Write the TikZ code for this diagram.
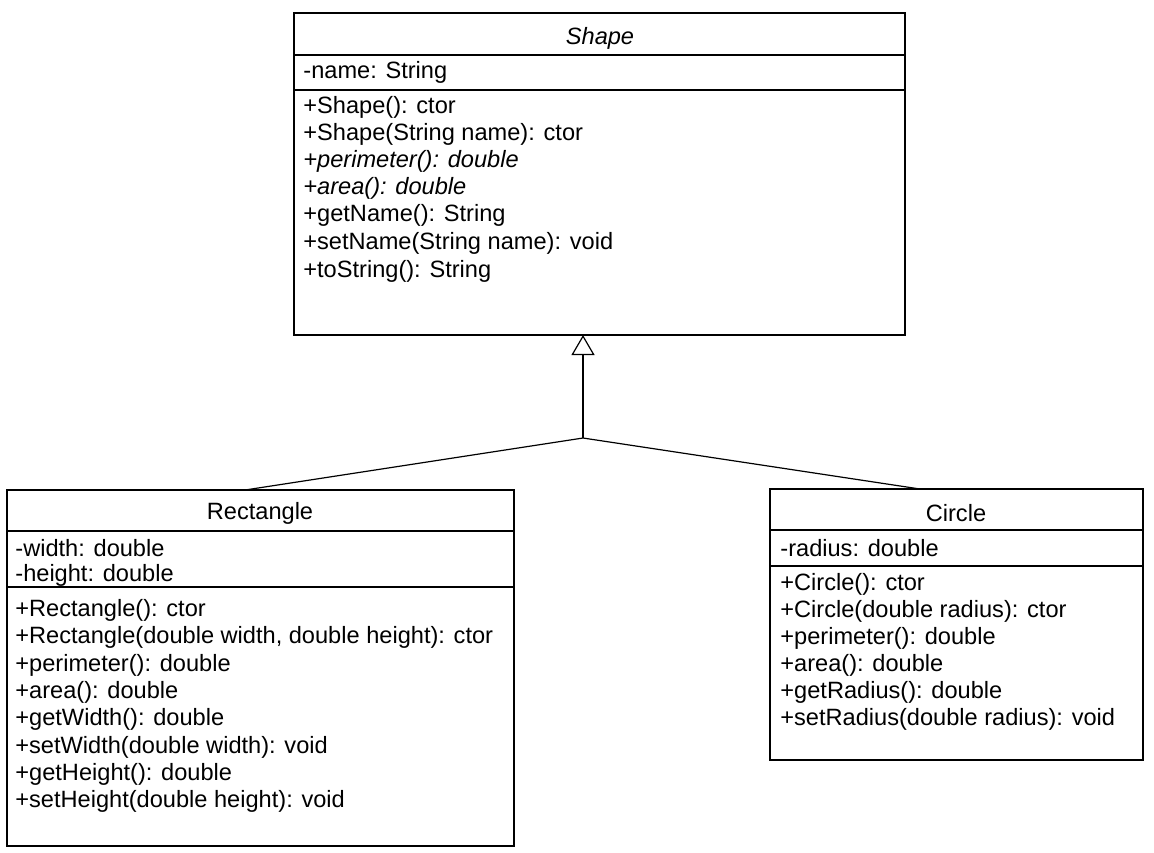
\documentclass[tikz,border=0pt]{standalone}
\usepackage{fontspec}
\setmainfont{Liberation Sans}
\usetikzlibrary{positioning}
\usetikzlibrary{arrows.meta}

\tikzset{
  classbox/.style={draw, line width=0.6pt, inner sep=0pt, outer sep=0pt, anchor=north west},
  member/.style={anchor=west, inner sep=0pt},
  title/.style={inner sep=0pt},
  rule/.style={line width=0.6pt},
  inherit/.style={line width=0.6pt, -{Triangle[open, width=11.5pt, length=10pt]}}
}

\begin{document}
\begin{tikzpicture}[x=0.5pt, y=-0.5pt, every node/.style={font=\fontsize{11.8}{14}\selectfont}]
\useasboundingbox (0,0) rectangle (1154,852);

% Shape
\node[classbox, minimum width=305.5pt, minimum height=161pt] (shape) at (294,13) {};
\draw[rule] (shape.west |- 0,55) -- (shape.east |- 0,55);
\draw[rule] (shape.west |- 0,90) -- (shape.east |- 0,90);
\node[title] (shapename) at (600,38) {\textit{Shape}};
\node[member] (shapeattr1) at (303,72) {-name: String};
\node[member] (shapeop1) at (303,107) {+Shape(): ctor};
\node[member] (shapeop2) at (303,134) {+Shape(String name): ctor};
\node[member] (shapeop3) at (303,161) {\textit{+perimeter(): double}};
\node[member] (shapeop4) at (303,188) {\textit{+area(): double}};
\node[member] (shapeop5) at (303,215) {+getName(): String};
\node[member] (shapeop6) at (303,243) {+setName(String name): void};
\node[member] (shapeop7) at (303,271) {+toString(): String};

% Rectangle
\node[classbox, minimum width=253.5pt, minimum height=178pt] (rect) at (7,490) {};
\draw[rule] (rect.west |- 0,531) -- (rect.east |- 0,531);
\draw[rule] (rect.west |- 0,587) -- (rect.east |- 0,587);
\node[title] (rectname) at (260,513) {Rectangle};
\node[member] (rectattr1) at (15,548) {-width: double};
\node[member] (rectattr2) at (15,575) {-height: double};
\node[member] (rectop1) at (15,610) {+Rectangle(): ctor};
\node[member] (rectop2) at (15,637) {+Rectangle(double width, double height): ctor};
\node[member] (rectop3) at (15,665) {+perimeter(): double};
\node[member] (rectop4) at (15,692) {+area(): double};
\node[member] (rectop5) at (15,719) {+getWidth(): double};
\node[member] (rectop6) at (15,747) {+setWidth(double width): void};
\node[member] (rectop7) at (15,774) {+getHeight(): double};
\node[member] (rectop8) at (15,801) {+setHeight(double height): void};

% Circle
\node[classbox, minimum width=186.5pt, minimum height=135.5pt] (circle) at (770,489) {};
\draw[rule] (circle.west |- 0,530) -- (circle.east |- 0,530);
\draw[rule] (circle.west |- 0,566) -- (circle.east |- 0,566);
\node[title] (circlename) at (956,513) {Circle};
\node[member] (circleattr1) at (780,548) {-radius: double};
\node[member] (circleop1) at (780,584) {+Circle(): ctor};
\node[member] (circleop2) at (780,611) {+Circle(double radius): ctor};
\node[member] (circleop3) at (780,638) {+perimeter(): double};
\node[member] (circleop4) at (780,665) {+area(): double};
\node[member] (circleop5) at (780,692) {+getRadius(): double};
\node[member] (circleop6) at (780,719) {+setRadius(double radius): void};

% generalisation
\coordinate (split) at (583,438);
\coordinate (rectjoin) at (245,490);
\coordinate (circlejoin) at (920,489);
\draw[rule] (rectjoin) -- (split) -- (circlejoin);
\draw[inherit] (split) -- (split |- shape.south);

\end{tikzpicture}
\end{document}
